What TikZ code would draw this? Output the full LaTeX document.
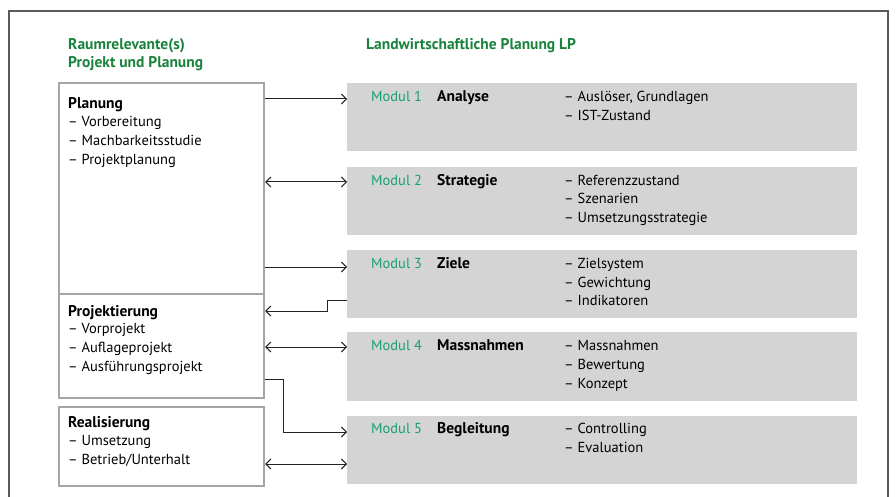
\documentclass[tikz,border=0pt]{standalone}
\usepackage{fontspec}
\setmainfont{PT Sans}
\usetikzlibrary{arrows.meta,calc}
\definecolor{hgreen}{RGB}{25,130,60}
\definecolor{mgreen}{RGB}{25,160,110}
\definecolor{gfill}{RGB}{212,212,212}
\definecolor{lborder}{RGB}{165,165,165}
\definecolor{frame}{RGB}{90,90,90}
\definecolor{arr}{RGB}{35,35,35}
\tikzset{
  x=1pt, y=-1pt,
  txt/.style={anchor=base west, inner sep=0pt, font=\fontsize{14.5}{19}\selectfont},
  btxt/.style={txt, font=\fontsize{15.5}{19}\selectfont\bfseries},
  hdr/.style={btxt, text=hgreen},
  mod/.style={txt, text=mgreen},
  lbox/.style={draw=lborder, line width=2.2pt, fill=white, anchor=north west, inner sep=0pt},
  gbox/.style={fill=gfill, anchor=north west, inner sep=0pt},
  conn/.style={draw=arr, line width=1pt},
  tip/.style={-{Straight Barb[length=5pt,width=10pt,line width=1pt]}},
  tips/.style={{Straight Barb[length=5pt,width=10pt,line width=1pt]}-{Straight Barb[length=5pt,width=10pt,line width=1pt]}},
}
\begin{document}
\begin{tikzpicture}
\useasboundingbox (0,0) rectangle (896,497);
\begin{scope}
\clip (0,0) rectangle (896,497);
\draw[frame, line width=1.2pt] (9,11) rectangle (888,520);
\end{scope}

% headers
\node[hdr] (h1) at (68,50) {Raumrelevante(s)};
\node[hdr] (h2) at (68,68) {Projekt und Planung};
\node[hdr] (h3) at (366,50) {Landwirtschaftliche Planung LP};

% left boxes
\node[lbox, minimum width=205pt, minimum height=296pt] (plan) at (58,82) {};
\node[lbox, minimum width=205pt, minimum height=104pt] (proj) at (58,293) {};
\node[lbox, minimum width=205pt, minimum height=79pt] (real) at (58,406) {};

% right boxes
\node[gbox, minimum width=510pt, minimum height=68pt] (m1) at (347,83) {};
\node[gbox, minimum width=510pt, minimum height=68pt] (m2) at (347,167) {};
\node[gbox, minimum width=510pt, minimum height=68pt] (m3) at (347,250) {};
\node[gbox, minimum width=510pt, minimum height=69pt] (m4) at (347,332) {};
\node[gbox, minimum width=510pt, minimum height=68pt] (m5) at (347,416) {};

% left texts
\node[btxt] (pt) at (68,109) {Planung};
\node[txt] (p1) at (68,127) {– Vorbereitung};
\node[txt] (p2) at (68,146) {– Machbarkeitsstudie};
\node[txt] (p3) at (68,165) {– Projektplanung};

\node[btxt] (jt) at (68,316) {Projektierung};
\node[txt] (j1) at (68,333.5) {– Vorprojekt};
\node[txt] (j2) at (68,352.5) {– Auflageprojekt};
\node[txt] (j3) at (68,371.5) {– Ausführungsprojekt};

\node[btxt] (rt) at (68,427) {Realisierung};
\node[txt] (r1) at (68,445.5) {– Umsetzung};
\node[txt] (r2) at (68,464.5) {– Betrieb/Unterhalt};

% module texts
\node[mod] (m1a) at (371,101.5) {Modul 1};
\node[btxt] (m1b) at (437,101.5) {Analyse};
\node[txt] (m1c) at (564,101.5) {– Auslöser, Grundlagen};
\node[txt] (m1d) at (564,120.5) {– IST-Zustand};

\node[mod] (m2a) at (371,185.5) {Modul 2};
\node[btxt] (m2b) at (437,185.5) {Strategie};
\node[txt] (m2c) at (564,185.5) {– Referenzzustand};
\node[txt] (m2d) at (564,204) {– Szenarien};
\node[txt] (m2e) at (564,222.5) {– Umsetzungsstrategie};

\node[mod] (m3a) at (371,268.5) {Modul 3};
\node[btxt] (m3b) at (437,268.5) {Ziele};
\node[txt] (m3c) at (564,268.5) {– Zielsystem};
\node[txt] (m3d) at (564,287) {– Gewichtung};
\node[txt] (m3e) at (564,305.5) {– Indikatoren};

\node[mod] (m4a) at (371,350.5) {Modul 4};
\node[btxt] (m4b) at (437,350.5) {Massnahmen};
\node[txt] (m4c) at (564,350.5) {– Massnahmen};
\node[txt] (m4d) at (564,369.5) {– Bewertung};
\node[txt] (m4e) at (564,388.5) {– Konzept};

\node[mod] (m5a) at (371,433.5) {Modul 5};
\node[btxt] (m5b) at (437,433.5) {Begleitung};
\node[txt] (m5c) at (564,433.5) {– Controlling};
\node[txt] (m5d) at (564,452.5) {– Evaluation};

% connector helper coordinates
\coordinate (y1) at (0,99);
\coordinate (y2) at (0,182);
\coordinate (y3) at (0,267);
\coordinate (y4a) at (0,300);
\coordinate (y4b) at (0,311);
\coordinate (y5) at (0,347);
\coordinate (y6a) at (0,379);
\coordinate (y6b) at (0,432);
\coordinate (y7) at (0,464);
\coordinate (xa) at (327,0);
\coordinate (xb) at (283,0);

\draw[conn, tip] (plan.east |- y1) -- (m1.west |- y1);
\draw[conn, tips] (plan.east |- y2) -- (m2.west |- y2);
\draw[conn, tip] (plan.east |- y3) -- (m3.west |- y3);
\draw[conn, tip] (m3.west |- y4a) -- (xa |- y4a) -- (xa |- y4b) -- (proj.east |- y4b);
\draw[conn, tips] (proj.east |- y5) -- (m4.west |- y5);
\draw[conn, tip] (proj.east |- y6a) -- (xb |- y6a) -- (xb |- y6b) -- (m5.west |- y6b);
\draw[conn, tips] (real.east |- y7) -- (m5.west |- y7);
\end{tikzpicture}
\end{document}
